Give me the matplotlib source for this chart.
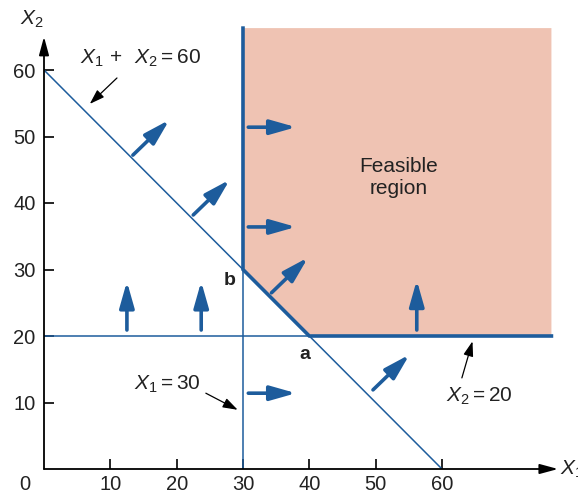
import matplotlib
matplotlib.use('Agg')
import matplotlib.pyplot as plt
from matplotlib.patches import Polygon

plt.rcParams['font.family'] = ['Liberation Sans', 'DejaVu Sans']
plt.rcParams['mathtext.fontset'] = 'custom'
plt.rcParams['mathtext.rm'] = 'Liberation Sans'
plt.rcParams['mathtext.it'] = 'Liberation Sans:italic'

BLUE = '#1d5c9c'
FILL = '#efc3b3'

# ---- data ----
x_ticks = [10, 20, 30, 40, 50, 60]
y_ticks = [10, 20, 30, 40, 50, 60]
sum_rhs = 60          # X1 + X2 = 60
x1_min = 30           # X1 = 30
x2_min = 20           # X2 = 20
x_end = 76.5
y_end = 66.3
# direction arrows (start, end)
diag_arrows = [((13.4, 47.2), (18.9, 52.5)),
               ((22.5, 38.2), (28.0, 43.5)),
               ((34.3, 26.5), (39.8, 31.8)),
               ((49.6, 11.9), (55.1, 17.2))]
right_arrows = [((30.8, 51.4), (38.0, 51.4)),
                ((30.8, 36.4), (38.0, 36.4)),
                ((30.8, 11.4), (38.0, 11.4))]
up_arrows = [((12.5, 20.9), (12.5, 28.2)),
             ((23.7, 20.9), (23.7, 28.2)),
             ((56.2, 20.9), (56.2, 28.4))]

fig = plt.figure(figsize=(5.78, 4.93), dpi=100)
ax = fig.add_axes([44/578, 24/493, (80*6.633)/578, (68*6.65)/493])
ax.set_xlim(0, 80)
ax.set_ylim(0, 68)
for s in ax.spines.values():
    s.set_visible(False)

ax.set_xticks(x_ticks)
ax.set_yticks(y_ticks)
ax.tick_params(direction='in', length=7, width=1.2, labelsize=14.5, pad=4, colors='black')
ax.tick_params(axis='y', pad=6)
for lab in ax.get_xticklabels() + ax.get_yticklabels():
    lab.set_color('#222222')

# feasible region
poly = Polygon([(x1_min, y_end), (x1_min, sum_rhs - x1_min), (sum_rhs - x2_min, x2_min),
                (x_end, x2_min), (x_end, y_end)], closed=True, facecolor=FILL, edgecolor='none', zorder=1)
ax.add_patch(poly)

# thin constraint lines
ax.plot([0, sum_rhs], [sum_rhs, 0], color=BLUE, lw=1.1, zorder=2)
ax.plot([x1_min, x1_min], [0, sum_rhs - x1_min], color=BLUE, lw=1.1, zorder=2)
ax.plot([0, sum_rhs - x2_min], [x2_min, x2_min], color=BLUE, lw=1.1, zorder=2)
# thick boundary
ax.plot([x1_min, x1_min, sum_rhs - x2_min, x_end],
        [y_end, sum_rhs - x1_min, x2_min, x2_min], color=BLUE, lw=2.6, zorder=3,
        solid_joinstyle='miter')

# axes with arrows
axis_style = dict(arrowstyle='-|>,head_length=1.0,head_width=0.27', color='black', lw=1.3,
                  shrinkA=0, shrinkB=0, mutation_scale=11)
ax.annotate('', xy=(77.5, 0), xytext=(0, 0), arrowprops=axis_style, annotation_clip=False, zorder=4)
ax.annotate('', xy=(0, 65), xytext=(0, 0), arrowprops=axis_style, annotation_clip=False, zorder=4)

# blue direction arrows
blue_style = dict(arrowstyle='-|>,head_length=1.2,head_width=0.34', color=BLUE, lw=2.6,
                  shrinkA=0, shrinkB=0, mutation_scale=13)
for s, e in diag_arrows + right_arrows + up_arrows:
    ax.annotate('', xy=e, xytext=s, arrowprops=blue_style, zorder=5)

# labels
fs = 15
tc = '#222222'
ax.text(-2.9, -2.4, '0', fontsize=14.5, ha='center', va='center', color=tc)
ax.text(-1.8, 67.6, '$X_2$', fontsize=fs, ha='center', va='center', clip_on=False, color=tc)
ax.text(77.8, 0, '$X_1$', fontsize=fs, ha='left', va='center', clip_on=False, color=tc)
ax.text(53.5, 43.9, 'Feasible\nregion', fontsize=15, ha='center', va='center', linespacing=1.2, color=tc)
ax.text(28.0, 28.4, 'b', fontsize=14, fontweight='bold', ha='center', va='center', color=tc)
ax.text(39.3, 17.2, 'a', fontsize=14, fontweight='bold', ha='center', va='center', color=tc)

lead = dict(arrowstyle='-|>,head_length=0.9,head_width=0.3', color='black', lw=0.9,
            shrinkA=0, shrinkB=0, mutation_scale=10)
ax.text(5.4, 61.8, '$X_1\\,+\\;\\;X_2 = 60$', fontsize=fs, ha='left', va='center', color=tc)
ax.annotate('', xy=(6.9, 54.9), xytext=(11.0, 58.8), arrowprops=lead)
ax.text(23.6, 12.8, '$X_1 = 30$', fontsize=fs, ha='right', va='center', color=tc)
ax.annotate('', xy=(29.2, 8.9), xytext=(24.4, 11.4), arrowprops=lead)
ax.text(60.6, 10.9, '$X_2 = 20$', fontsize=fs, ha='left', va='center', color=tc)
ax.annotate('', xy=(64.6, 19.2), xytext=(63.0, 13.7), arrowprops=lead)

fig.savefig('out.png', dpi=100)
